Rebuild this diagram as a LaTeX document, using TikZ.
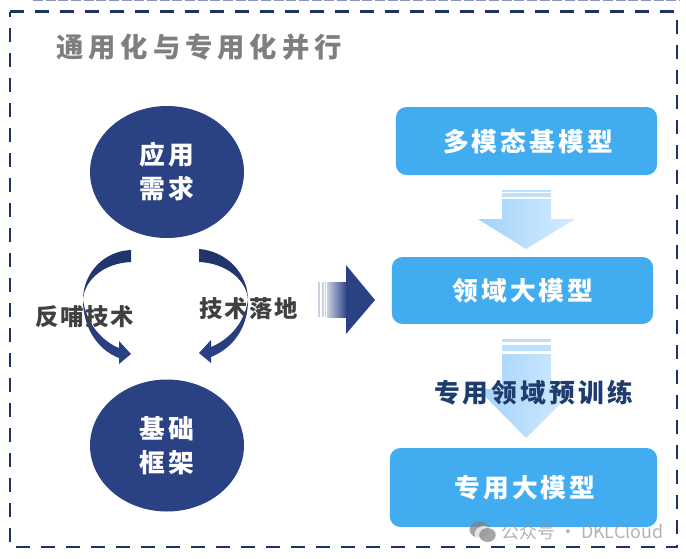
\documentclass[tikz,border=0pt]{standalone}
\usepackage{fontspec}
\newfontfamily\cjk{Noto Sans CJK SC}
\newfontfamily\wm{Noto Sans CJK SC}
\usetikzlibrary{shapes.geometric}
\definecolor{navy}{HTML}{2A4184}
\definecolor{navydk}{HTML}{1F3468}
\definecolor{bluebox}{HTML}{41ADF0}
\definecolor{borderc}{HTML}{1F3264}
\definecolor{hdtext}{HTML}{7F7F7F}
\definecolor{lbl}{HTML}{404040}
\definecolor{lbl2}{HTML}{1F3C6E}
\definecolor{downl}{HTML}{A0D3FB}
\definecolor{downr}{HTML}{D5EBFE}
\definecolor{downm}{HTML}{BDE0FC}
\tikzset{
  x=0.75pt,y=-0.75pt,
  oval/.style={ellipse,fill=navy,minimum width=115.5pt,minimum height=99pt,inner sep=0pt},
  modelbox/.style={rectangle,rounded corners=8pt,fill=bluebox,inner sep=0pt},
  txt/.style={inner sep=0pt,font=\cjk\bfseries\fontsize{19.3}{19.3}\selectfont\addfontfeature{LetterSpace=12}},
  wtxt/.style={txt,text=white},
  side/.style={inner sep=0pt,text=lbl,font=\cjk\bfseries\fontsize{17.5}{17.5}\selectfont\addfontfeature{LetterSpace=7}},
  downshade/.style={left color=downl,right color=downr},
  stripe/.style={fill=downm},
}
\begin{document}
\begin{tikzpicture}
\useasboundingbox (0,0) rectangle (686,558);
\fill[white] (0,0) rectangle (686,558);
% faint top line
\draw[color=navy!55,line width=1pt,dash pattern=on 7.5pt off 2pt] (33,0.5) -- (680,0.5);
% frame
\draw[borderc,line width=2.2pt,dash pattern=on 10.5pt off 8.25pt] (10,11.5) -- (677,11.5) -- (677,547) -- (10,547) -- cycle;
% title
\node[inner sep=0pt,text=hdtext,font=\cjk\bfseries\fontsize{20.5}{20.5}\selectfont\addfontfeature{LetterSpace=18}] (title) at (199,47) {通用化与专用化并行};
% ovals
\node[oval] (need) at (167,172) {};
\node[oval] (base) at (167,445.5) {};
\node[wtxt] (needa) at (167,155) {应用};
\node[wtxt] (needb) at (167,189) {需求};
\node[wtxt] (basea) at (167,429) {基础};
\node[wtxt] (baseb) at (167,463) {框架};
% curved arrows
\shade[top color=navydk,bottom color=navy]
 (131,250) .. controls (104,251) and (83,273) .. (83,300)
 .. controls (83,328) and (98,350) .. (119,358) -- (119,364) -- (131,354) -- (119,341) -- (119,348)
 .. controls (104,342) and (87,326) .. (83,300)
 .. controls (84,280) and (104,263) .. (131,262) -- cycle;
\shade[top color=navydk,bottom color=navy]
 (199,249) .. controls (226,251) and (248,273) .. (248,300)
 .. controls (248,328) and (233,348) .. (211,357) -- (211,363) -- (199,353) -- (211,340) -- (211,347)
 .. controls (226,341) and (244,326) .. (248,300)
 .. controls (247,280) and (226,263) .. (199,262) -- cycle;
\node[side] (feedback) at (85,317) {反哺技术};
\node[side] (landing) at (249,309) {技术落地};
% big right arrow
\fill[navy!25] (318,282) rectangle (320,317);
\fill[navy!25] (322,282) rectangle (324,317);
\fill[navy!25] (325,282) rectangle (326,317);
\shade[left color=navy!25,right color=navy] (327,282) rectangle (347,317);
\fill[navy] (346,282) -- (346,265) -- (375,300) -- (346,334) -- (346,317) -- cycle;
% boxes
\node[modelbox,minimum width=196pt,minimum height=51pt] (m1) at (526.5,141) {};
\node[modelbox,minimum width=196pt,minimum height=50.2pt] (m2) at (522.5,290.5) {};
\node[modelbox,minimum width=200.5pt,minimum height=59.2pt] (m3) at (523.5,487.5) {};
\node[wtxt] (m1t) at (528,142) {多模态基模型};
\node[wtxt] (m2t) at (523,291) {领域大模型};
\node[wtxt] (m3t) at (525,488) {专用大模型};
% down arrows
\fill[stripe] (502,189.5) rectangle (551,191.5);
\fill[stripe] (502,193) rectangle (551,197);
\shade[downshade] (502,199) -- (551,199) -- (551,219) -- (575,219) -- (526,249) -- (478,219) -- (502,219) -- cycle;
\fill[stripe] (502,339) rectangle (551,342);
\fill[stripe] (502,345) rectangle (551,351);
\shade[downshade] (502,354) -- (551,354) -- (551,389) -- (575,389) -- (526,438) -- (478,389) -- (502,389) -- cycle;
\node[txt,text=lbl2] (train) at (533.5,393) {专用领域预训练};
% watermark
\begin{scope}[opacity=.7]
\fill[gray] (479.5,529.5) ellipse (7.5pt and 6.2pt);
\fill[white] (484,534) ellipse (7pt and 6pt);
\fill[gray] (487.5,535) ellipse (6.2pt and 5.2pt);
\node[inner sep=0pt,text=gray!85,font=\wm\fontsize{13.4}{13.4}\selectfont] (mark) at (582.5,532) {公众号 · DKLCloud};
\end{scope}
\end{tikzpicture}
\end{document}
